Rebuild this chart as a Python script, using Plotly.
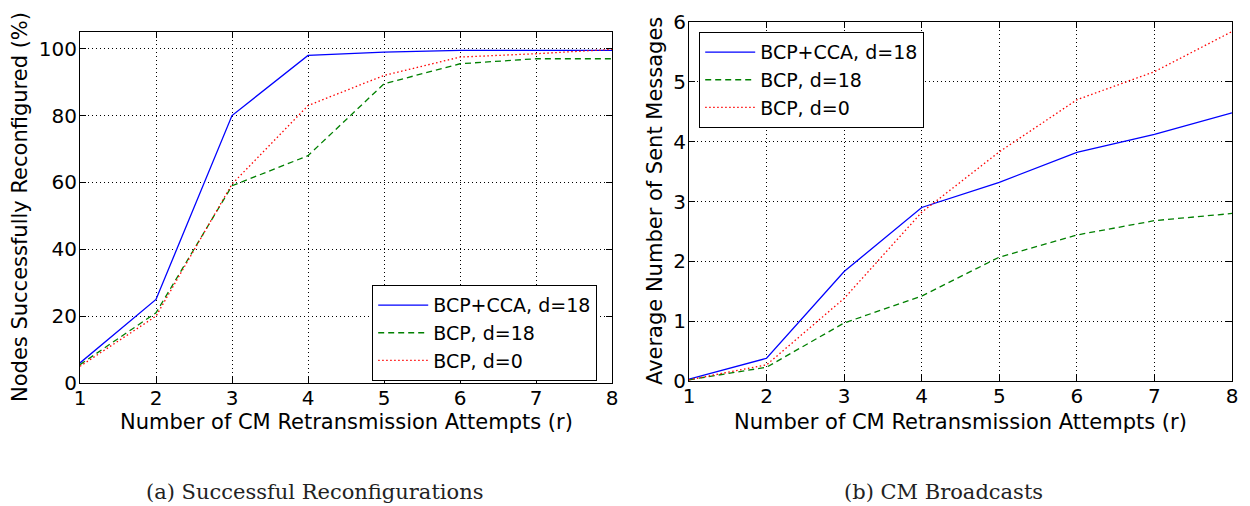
import plotly.graph_objects as go

r_vals = [1, 2, 3, 4, 5, 6, 7, 8]
series_names = ["BCP+CCA, d=18", "BCP, d=18", "BCP, d=0"]

# (a) Successful reconfigurations (%)
succ_bcp_cca_18 = [6, 25, 80, 98, 99, 99.5, 99.5, 99.5]
succ_bcp_18 = [5.5, 21, 59, 68, 89.5, 95.5, 97, 97]
succ_bcp_0 = [5, 20, 59.5, 83, 92, 97.5, 98.5, 99.8]

# (b) CM broadcasts (average sent messages)
msg_bcp_cca_18 = [0.03, 0.38, 1.83, 2.9, 3.32, 3.82, 4.12, 4.48]
msg_bcp_18 = [0.02, 0.23, 0.97, 1.42, 2.07, 2.44, 2.68, 2.8]
msg_bcp_0 = [0.02, 0.27, 1.38, 2.82, 3.83, 4.7, 5.17, 5.84]

left_ticks = [0, 20, 40, 60, 80, 100]
right_ticks = [0, 1, 2, 3, 4, 5, 6]
x_ticks = [1, 2, 3, 4, 5, 6, 7, 8]

x_title = "Number of CM Retransmission Attempts (r)"
y_title_a = "Nodes Successfully Reconfigured (%)"
y_title_b = "Average Number of Sent Messages"
caption_a = "(a) Successful Reconfigurations"
caption_b = "(b) CM Broadcasts"

colors = ["#0000ff", "#008000", "#ff0000"]
dashes = ["solid", "6px,4px", "1.5px,2.5px"]

fig = go.Figure()
for i, (name, ys, c, d) in enumerate(zip(series_names, [succ_bcp_cca_18, succ_bcp_18, succ_bcp_0], colors, dashes)):
    fig.add_trace(go.Scatter(x=r_vals, y=ys, mode="lines", name=name,
                             line=dict(color=c, dash=d, width=1.3),
                             xaxis="x", yaxis="y", legend="legend", legendgroup="a%d" % i))
for i, (name, ys, c, d) in enumerate(zip(series_names, [msg_bcp_cca_18, msg_bcp_18, msg_bcp_0], colors, dashes)):
    fig.add_trace(go.Scatter(x=r_vals, y=ys, mode="lines", name=name,
                             line=dict(color=c, dash=d, width=1.3),
                             xaxis="x2", yaxis="y2", legend="legend2", legendgroup="b%d" % i))

# page body has an 8px margin: the figure starts at (8, 8) in the window
OFF = 8
W, H = 1250 - OFF, 506 - OFF
def px_x(p): return (p - OFF) / W
def px_y(p): return 1 - (p - OFF) / H

tick_font = dict(family="DejaVu Sans", size=20, color="black")
title_font = dict(family="DejaVu Sans", size=21, color="black")
legend_font = dict(family="DejaVu Sans", size=19, color="black")
caption_font = dict(family="DejaVu Serif", size=21, color="#222222")

common = dict(showline=True, linecolor="black", linewidth=1.2, mirror="ticks",
              ticks="inside", ticklen=6, tickcolor="black",
              showgrid=True, gridcolor="black", griddash="1px,3px", gridwidth=1,
              zeroline=False, tickfont=tick_font, automargin=False)

fig.update_layout(
    width=W, height=H,
    margin=dict(l=0, r=0, t=0, b=0),
    paper_bgcolor="white", plot_bgcolor="white",
    showlegend=True,
    xaxis=dict(domain=[px_x(80), px_x(612)], range=[1, 8], tickvals=x_ticks,
               anchor="y", ticklabelstandoff=-3, **common),
    yaxis=dict(domain=[px_y(383), px_y(32)], range=[0, 105], tickvals=left_ticks,
               anchor="x", ticklabelstandoff=-2, **common),
    xaxis2=dict(domain=[px_x(689), px_x(1232)], range=[1, 8], tickvals=x_ticks,
                anchor="y2", ticklabelstandoff=-3, **common),
    yaxis2=dict(domain=[px_y(381), px_y(22)], range=[0, 6], tickvals=right_ticks,
                anchor="x2", ticklabelstandoff=-2, **common),
    legend=dict(x=px_x(372), y=px_y(285), xanchor="left", yanchor="top",
                bgcolor="white", bordercolor="black", borderwidth=1.2,
                font=legend_font, tracegroupgap=0, itemwidth=50),
    legend2=dict(x=px_x(699), y=px_y(32), xanchor="left", yanchor="top",
                 bgcolor="white", bordercolor="black", borderwidth=1.2,
                 font=legend_font, tracegroupgap=0, itemwidth=50),
)

annots = [
    dict(text=x_title, x=px_x(346), y=px_y(422), font=title_font),
    dict(text=x_title, x=px_x(960), y=px_y(422), font=title_font),
    dict(text=y_title_a, x=px_x(20), y=px_y(207), font=title_font, textangle=-90),
    dict(text=y_title_b, x=px_x(655), y=px_y(201), font=title_font, textangle=-90),
    dict(text=caption_a, x=px_x(315), y=px_y(492), font=caption_font),
    dict(text=caption_b, x=px_x(943), y=px_y(492), font=caption_font),
]
for a in annots:
    fig.add_annotation(xref="paper", yref="paper", showarrow=False,
                       xanchor="center", yanchor="middle", **a)

fig.write_html("out.html")
